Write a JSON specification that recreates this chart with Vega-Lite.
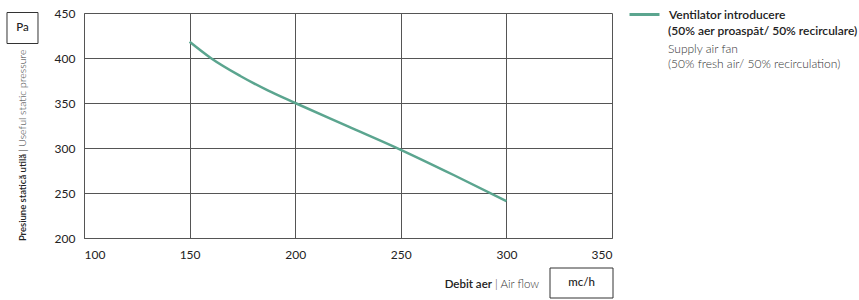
{
  "$schema": "https://vega.github.io/schema/vega-lite/v6.json",
  "width": 528,
  "height": 225,
  "autosize": {"type": "none"},
  "padding": {"left": 84, "top": 13, "right": 247, "bottom": 62},
  "background": "white",
  "config": {
    "view": {"stroke": null},
    "font": "Lato",
    "axis": {
      "grid": true,
      "gridColor": "#555555",
      "gridOpacity": 1,
      "gridWidth": 1,
      "domainColor": "#555555",
      "domainWidth": 1,
      "ticks": false,
      "labelFont": "Lato",
      "labelFontSize": 12,
      "labelColor": "#222222",
      "title": null
    },
    "text": {"font": "Lato", "fontSize": 11, "color": "#222222"}
  },
  "layer": [
    {
      "data": {
        "values": [
          {"airflow": 150, "pressure": 418, "series": "Ventilator introducere"},
          {"airflow": 160, "pressure": 400, "series": "Ventilator introducere"},
          {"airflow": 174, "pressure": 380, "series": "Ventilator introducere"},
          {"airflow": 187, "pressure": 364, "series": "Ventilator introducere"},
          {"airflow": 200, "pressure": 350, "series": "Ventilator introducere"},
          {"airflow": 225, "pressure": 324, "series": "Ventilator introducere"},
          {"airflow": 250, "pressure": 298, "series": "Ventilator introducere"},
          {"airflow": 275, "pressure": 270, "series": "Ventilator introducere"},
          {"airflow": 300, "pressure": 241, "series": "Ventilator introducere"}
        ]
      },
      "mark": {"type": "line", "strokeWidth": 2.5, "interpolate": "monotone"},
      "encoding": {
        "x": {
          "field": "airflow",
          "type": "quantitative",
          "scale": {"domain": [100, 350], "nice": false, "zero": false},
          "axis": {"values": [100, 150, 200, 250, 300, 350], "labelPadding": 11, "title": null}
        },
        "y": {
          "field": "pressure",
          "type": "quantitative",
          "scale": {"domain": [200, 450], "nice": false, "zero": false},
          "axis": {"values": [200, 250, 300, 350, 400, 450], "labelPadding": 9, "title": null}
        },
        "color": {
          "field": "series",
          "type": "nominal",
          "scale": {"range": ["#5ba58f"]},
          "legend": {
            "title": null,
            "orient": "none",
            "legendX": 544,
            "legendY": -15,
            "padding": 0,
            "symbolType": "stroke",
            "symbolSize": 900,
            "symbolStrokeWidth": 3,
            "labelFont": "Lato",
            "labelFontSize": 12,
            "labelFontWeight": 600,
            "labelColor": "#222222",
            "labelOffset": 8
          }
        }
      }
    },
    {
      "data": {"values": [{}]},
      "mark": {"type": "point", "shape": "square", "size": 961, "filled": false, "stroke": "#333333", "strokeWidth": 1, "opacity": 1},
      "encoding": {"x": {"datum": 70.88, "type": "quantitative"}, "y": {"datum": 433.33, "type": "quantitative"}}
    },
    {
      "data": {"values": [{}]},
      "mark": {"type": "text", "text": "Pa", "align": "center", "baseline": "middle", "fontSize": 11.5, "fontWeight": 500},
      "encoding": {"x": {"datum": 70.88, "type": "quantitative"}, "y": {"datum": 433.33, "type": "quantitative"}}
    },
    {
      "data": {"values": [{}]},
      "mark": {"type": "point", "shape": "M-2.1,-1H2.1V1H-2.1Z", "size": 900, "filled": false, "stroke": "#333333", "strokeWidth": 1, "opacity": 1},
      "encoding": {"x": {"datum": 335.56, "type": "quantitative"}, "y": {"datum": 150, "type": "quantitative"}}
    },
    {
      "data": {"values": [{}]},
      "mark": {"type": "text", "text": "mc/h", "align": "center", "baseline": "middle", "fontSize": 11.5, "fontWeight": 500},
      "encoding": {"x": {"datum": 335.56, "type": "quantitative"}, "y": {"datum": 150, "type": "quantitative"}}
    },
    {
      "data": {"values": [{}]},
      "mark": {"type": "text", "text": "Debit aer", "align": "right", "baseline": "middle", "fontSize": 11.5, "fontWeight": 600},
      "encoding": {"x": {"datum": 293.18, "type": "quantitative"}, "y": {"datum": 147.78, "type": "quantitative"}}
    },
    {
      "data": {"values": [{}]},
      "mark": {"type": "text", "text": "| Air flow", "align": "left", "baseline": "middle", "fontSize": 11.5, "fontWeight": 300, "color": "#333333"},
      "encoding": {"x": {"datum": 294.6, "type": "quantitative"}, "y": {"datum": 147.78, "type": "quantitative"}}
    },
    {
      "data": {"values": [{}]},
      "mark": {"type": "text", "text": "Presiune statică utilă", "angle": 270, "align": "right", "baseline": "middle", "fontSize": 9.5, "fontWeight": 600},
      "encoding": {"x": {"datum": 71.3, "type": "quantitative"}, "y": {"datum": 293.3, "type": "quantitative"}}
    },
    {
      "data": {"values": [{}]},
      "mark": {"type": "text", "text": "| Useful static pressure", "angle": 270, "align": "left", "baseline": "middle", "fontSize": 10.5, "fontWeight": 300, "color": "#333333"},
      "encoding": {"x": {"datum": 71.3, "type": "quantitative"}, "y": {"datum": 295.5, "type": "quantitative"}}
    },
    {
      "data": {"values": [{}]},
      "mark": {"type": "text", "text": "(50% aer proaspăt/ 50% recirculare)", "align": "left", "baseline": "middle", "fontSize": 12, "fontWeight": 600},
      "encoding": {"x": {"datum": 376.52, "type": "quantitative"}, "y": {"datum": 430, "type": "quantitative"}}
    },
    {
      "data": {"values": [{}]},
      "mark": {"type": "text", "text": "Supply air fan", "align": "left", "baseline": "middle", "fontSize": 12, "fontWeight": 300, "color": "#333333"},
      "encoding": {"x": {"datum": 376.52, "type": "quantitative"}, "y": {"datum": 410.2, "type": "quantitative"}}
    },
    {
      "data": {"values": [{}]},
      "mark": {"type": "text", "text": "(50% fresh air/ 50% recirculation)", "align": "left", "baseline": "middle", "fontSize": 12, "fontWeight": 300, "color": "#333333"},
      "encoding": {"x": {"datum": 376.52, "type": "quantitative"}, "y": {"datum": 393.3, "type": "quantitative"}}
    }
  ]
}
